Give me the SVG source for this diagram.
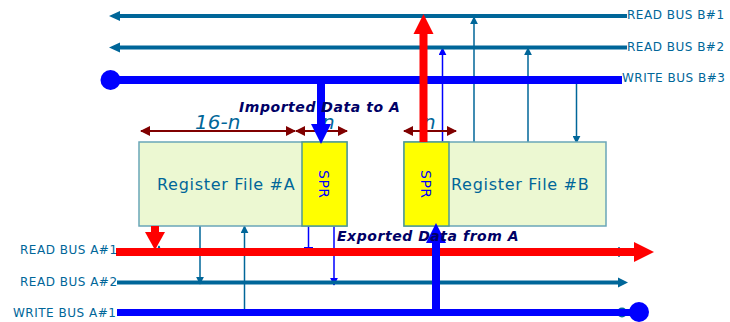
<svg xmlns="http://www.w3.org/2000/svg" width="730" height="322" viewBox="0 0 730 322">
<style>
text{font-family:"DejaVu Sans","Liberation Sans",sans-serif}
.bus{font-size:12px;fill:#006699;letter-spacing:.5px}
.reg{font-size:16px;fill:#006699;letter-spacing:.7px}
.dim{font-size:20px;font-style:italic;fill:#006699}
.note{font-size:14px;font-weight:bold;font-style:italic;fill:#000066;letter-spacing:.55px}
.spr{font-size:14px;fill:#0000ff;letter-spacing:.5px}
.box{fill:#ecf8d2;stroke:#6aa6b8;stroke-width:1.5}
.sprbox{fill:#ffff00;stroke:#4f9a94;stroke-width:1.5}
.t{stroke:#006699;fill:none}
.b{stroke:#0000ff;fill:none}
.r{stroke:#ff0000;fill:none}
.d{stroke:#800000;stroke-width:2;fill:none;marker-start:url(#dm);marker-end:url(#dm)}
</style>
<defs>
<marker id="dm" markerUnits="userSpaceOnUse" viewBox="0 0 10 10" refX="9" refY="5" markerWidth="10" markerHeight="10" orient="auto-start-reverse"><path d="M0 0L10 5L0 10z" fill="#800000"/></marker>
<marker id="ta" markerUnits="userSpaceOnUse" viewBox="0 0 10 10" refX="9" refY="5" markerWidth="8" markerHeight="8" orient="auto"><path d="M0 0L10 5L0 10z" fill="#006699"/></marker>
<marker id="ba" markerUnits="userSpaceOnUse" viewBox="0 0 10 10" refX="9" refY="5" markerWidth="8" markerHeight="8" orient="auto"><path d="M0 0L10 5L0 10z" fill="#0000ff"/></marker>
</defs>
<g id="connectors">
<g id="thin-links">
<path class="t" stroke-width="1.5" d="M474 142V17" marker-end="url(#ta)"/>
<path class="t" stroke-width="1.5" d="M528 142V48" marker-end="url(#ta)"/>
<path class="t" stroke-width="1.5" d="M576.500 80V143" marker-end="url(#ta)"/>
<path class="b" stroke-width="1.5" d="M442.500 142V48" marker-end="url(#ba)"/>
<path class="t" stroke-width="1.500" d="M200 226V284" marker-end="url(#ta)"/>
<path class="t" stroke-width="1.500" d="M244.500 312V226" marker-end="url(#ta)"/>
<path class="b" stroke-width="1.500" d="M308.500 226V248"/>
<path class="b" stroke-width="1" d="M304 247.500H313"/>
<path class="b" stroke-width="1.500" d="M334 226V285" marker-end="url(#ba)"/>
<path class="t" stroke-width="1.500" d="M159 252V246" marker-end="url(#ta)"/>
<path class="t" stroke-width="1.500" d="M619 247V257"/>
</g>
<g id="buses">
<path class="t" stroke-width="4" d="M627 16H118"/>
<path d="M109 16L120 11V21z" fill="#006699"/>
<path class="t" stroke-width="4" d="M627 47.500H118"/>
<path d="M109 47.500L120 42.500V52.500z" fill="#006699"/>
<path class="b" stroke-width="8" d="M110 80H622"/>
<circle cx="110.500" cy="80" r="10" fill="#0000ff"/>
<path class="t" stroke-width="4" d="M117 282.500H620"/>
<path d="M628 282.500L618 277.500V287.500z" fill="#006699"/>
<circle cx="622" cy="312.500" r="5" fill="#006699"/>
<path class="b" stroke-width="7" d="M117 312.500H632"/>
<circle cx="639" cy="312" r="10" fill="#0000ff"/>
<path class="r" stroke-width="8" d="M116 252H635"/>
<path d="M654 252L634 242V262z" fill="#ff0000"/>
</g>
<g id="dimensions">
<path class="d" d="M141 131H295"/>
<path class="d" d="M296 131H347"/>
<path class="d" d="M404 131H456"/>
</g>
</g>
<g id="register-a">
<rect class="box" x="139" y="142" width="208" height="84"/>
<text class="reg" x="157" y="190">Register File #A</text>
</g>
<g id="spr-a">
<rect class="sprbox" x="302" y="142" width="45" height="84"/>
<text class="spr" transform="translate(318.500 170) rotate(90)">SPR</text>
</g>
<g id="register-b">
<rect class="box" x="404" y="142" width="202" height="84"/>
<text class="reg" x="451" y="190">Register File #B</text>
</g>
<g id="spr-b">
<rect class="sprbox" x="404" y="142" width="45" height="84"/>
<text class="spr" transform="translate(420.500 170) rotate(90)">SPR</text>
</g>
<g id="labels">
<text class="dim" x="195" y="129">16-n</text>
<text class="dim" x="322" y="129">n</text>
<text class="dim" x="423" y="129">n</text>
<text class="bus" x="627" y="19">READ BUS B#1</text>
<text class="bus" x="627" y="51">READ BUS B#2</text>
<text class="bus" x="622" y="82">WRITE BUS B#3</text>
<text class="bus" x="20" y="254">READ BUS A#1</text>
<text class="bus" x="20" y="286">READ BUS A#2</text>
<text class="bus" x="13" y="317">WRITE BUS A#1</text>
</g>
<g id="data-arrows">
<path class="b" stroke-width="8" d="M321 80V126"/>
<path d="M321 144L311 124H331z" fill="#0000ff"/>
<path class="r" stroke-width="8" d="M423.500 142V32"/>
<path d="M423.500 14L413.500 34H433.500z" fill="#ff0000"/>
<path class="r" stroke-width="8" d="M155 226V237"/>
<path d="M155 250L145 232H165z" fill="#ff0000"/>
<path class="b" stroke-width="8" d="M436 312V240"/>
<path d="M436 223L426 243H446z" fill="#0000ff"/>
</g>
<g id="notes">
<text class="note" x="239" y="112">Imported Data to A</text>
<text class="note" x="337" y="241">Exported Data from A</text>
</g>
</svg>
